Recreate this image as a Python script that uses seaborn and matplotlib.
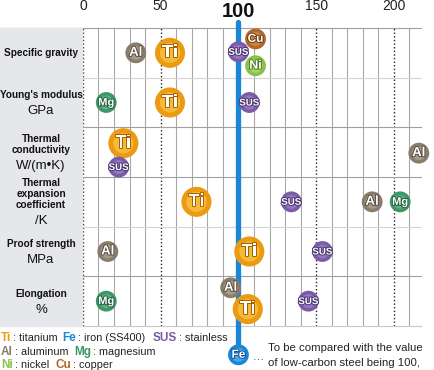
import matplotlib
matplotlib.use("Agg")
import matplotlib.pyplot as plt
import matplotlib.patheffects as pe
import matplotlib.transforms as mtransforms
from matplotlib.patches import Rectangle
import pandas as pd
import seaborn as sns

# property rows (top to bottom)
row_titles = [["Specific gravity"], ["Young's modulus"], ["Thermal", "conductivity"],
              ["Thermal", "expansion", "coefficient"], ["Proof strength"], ["Elongation"]]
row_units = ["", "GPa", "W/(m\u2022K)", "/K", "MPa", "%"]

# values relative to low-carbon steel (=100), per row
sg_mat = ["Al", "Ti", "SUS", "Cu", "Ni"]
sg_val = [34, 56, 100, 111, 111]
ym_mat = ["Mg", "Ti", "SUS"]
ym_val = [15, 56, 107]
tc_mat = ["Ti", "SUS", "Al"]
tc_val = [26, 23, 216]
te_mat = ["Ti", "SUS", "Al", "Mg"]
te_val = [73, 134, 186, 204]
ps_mat = ["Al", "Ti", "SUS"]
ps_val = [16, 107, 154]
el_mat = ["Mg", "Al", "Ti", "SUS"]
el_val = [15, 95, 106, 145]

# vertical nudges inside a row (fraction of row height) so bubbles don't overlap
sg_nudge = [0, 0, -0.02, -0.28, 0.26]
ym_nudge = [0, 0, 0]
tc_nudge = [-0.18, 0.30, 0.02]
te_nudge = [0, 0, 0, 0]
ps_nudge = [0, 0, 0]
el_nudge = [0, -0.27, 0.16, 0]

colors = {"Ti": "#ec9a12", "Al": "#8a7c6c", "SUS": "#7a5ba6", "Cu": "#b0692a",
          "Ni": "#8cc04a", "Mg": "#3f9768", "Fe": "#1a86d6"}
light = {"Ti": "#fbc94a", "Al": "#b3a898", "SUS": "#9f86c4", "Cu": "#d69550",
         "Ni": "#b5dc7c", "Mg": "#6dbb92", "Fe": "#5fb4ee"}
dark = {"Ti": "#a65f00", "Al": "#554a3e", "SUS": "#4a3270", "Cu": "#6e3a10",
        "Ni": "#4f7e1e", "Mg": "#1f5e3e", "Fe": "#0b5496"}
sizes = {"Ti": 470, "Al": 225, "SUS": 225, "Cu": 225, "Ni": 225, "Mg": 225, "Fe": 225}
txt_size = {"Ti": 13, "Al": 9.5, "SUS": 7, "Cu": 8.5, "Ni": 9, "Mg": 8, "Fe": 8.5}

mats = [sg_mat, ym_mat, tc_mat, te_mat, ps_mat, el_mat]
vals = [sg_val, ym_val, tc_val, te_val, ps_val, el_val]
nudges = [sg_nudge, ym_nudge, tc_nudge, te_nudge, ps_nudge, el_nudge]

recs = []
for i, (m, v, n) in enumerate(zip(mats, vals, nudges)):
    for mm, vv, nn in zip(m, v, n):
        recs.append({"material": mm, "value": vv, "row": i + 0.5 + nn})
df = pd.DataFrame(recs)

FONT = ["Liberation Sans", "DejaVu Sans"]

W, H = 434, 370
fig = plt.figure(figsize=(W / 100, H / 100), dpi=100)
x0px, x1px, y0px, y1px = 82, 421, 28, 326
ax = fig.add_axes([x0px / W, 1 - y1px / H, (x1px - x0px) / W, (y1px - y0px) / H])
ax.set_xlim(-0.6, 217.4)
ax.set_ylim(6, 0)
for s in ax.spines.values():
    s.set_visible(False)
ax.set_yticks([])

# left label panel
fig.patches.append(Rectangle((0, 1 - y1px / H), x0px / W, (y1px - y0px) / H,
                             transform=fig.transFigure, color="#e6e7ea", zorder=0))

# grid
for g in range(0, 220, 10):
    if g == 100:
        continue
    if g in (0, 50, 150, 200):
        ax.axvline(g, color="#222222", lw=1.0, ls=(0, (1, 1.6)), zorder=1)
    else:
        ax.axvline(g, color="#a8a8a8", lw=0.8, zorder=1)

px = 1.555  # pixels per data unit
line_cols = ["#a0a0a0", "#d4d4d4", "#a0a0a0", "#a0a0a0", "#d4d4d4", "#a0a0a0", "#c8c8c8"]
panel_cols = ["#a0a0a0", "#f8f8f8", "#a0a0a0", "#a0a0a0", "#f8f8f8", "#a0a0a0", "#f0f0f0"]
for r in range(0, 7):
    ax.plot([-0.6, 217.4], [r, r], color=line_cols[r], lw=0.8, clip_on=False, zorder=1)
    ax.plot([-0.6 - 82 / px, -0.6], [r, r], color=panel_cols[r], lw=0.8,
            clip_on=False, zorder=1)

# reference line at 100 (steel)
ax.plot([100, 100], [-0.12, 6.45], color=colors["Fe"], lw=3.8, clip_on=False,
        zorder=2, solid_capstyle="round")

# top tick labels
ax.xaxis.tick_top()
ax.set_xticks([0, 50, 150, 200])
ax.set_xticklabels(["0", "50", "150", "200"])
ax.tick_params(axis="x", length=0, pad=10.5)
for lab in ax.get_xticklabels():
    lab.set_fontfamily(FONT)
    lab.set_fontsize(10)
    lab.set_color("#222222")
top = mtransforms.blended_transform_factory(ax.transData, ax.transAxes)
ax.text(100, 1 + 11 / 298, "100", transform=top, ha="center", va="baseline",
        fontsize=14.5, fontweight="bold", color="#111111", family=FONT)


def bubbles(data):
    sns.scatterplot(data=data, x="value", y="row", hue="material", palette=colors,
                    size="material", sizes=sizes, legend=False, ax=ax,
                    edgecolor="none", linewidth=0, clip_on=False, zorder=3)
    for _, r in data.iterrows():
        m = r["material"]
        ax.scatter(r["value"], r["row"], s=sizes[m] * 0.45, color=light[m],
                   alpha=0.7, edgecolor="none", clip_on=False, zorder=4)
        ax.text(r["value"], r["row"], m, ha="center", va="center",
                fontsize=txt_size[m], fontweight="bold", color="white",
                family=FONT, zorder=5,
                path_effects=[pe.withStroke(linewidth=1.4, foreground=dark[m])])


bubbles(df)

# Fe reference marker below the chart
fe = pd.DataFrame({"material": ["Fe"], "value": [100], "row": [6.58]})
bubbles(fe)
ax.set_xlabel("")
ax.set_ylabel("")

# row labels in the left panel
lab_x = 41 / W
row_h = (y1px - y0px) / 6
for i, (title, unit) in enumerate(zip(row_titles, row_units)):
    lines = [(t, True) for t in title] + ([(unit, False)] if unit else [])
    steps = [11 if lines[k + 1][1] else 16 for k in range(len(lines) - 1)]
    cy = y0px + row_h * (i + 0.5) - sum(steps) / 2 + 0.5
    for k, (t, b) in enumerate(lines):
        fig.text(lab_x, 1 - cy / H, t, ha="center", va="center",
                 fontsize=7.2 if b else 9.5, fontweight="bold" if b else "normal",
                 family=FONT, color="#111111")
        if k < len(steps):
            cy += steps[k]

# legend lines (pieces chained left to right)
legend_rows = [
    (338, [("Ti", 0), (": titanium", 2), ("Fe", 4), (": iron (SS400)", 2), ("SUS", 8), (": stainless", 2)]),
    (352, [("Al", 0), (": aluminum", 2), ("Mg", 6), (": magnesium", 2)]),
    (365, [("Ni", 0), (": nickel", 2), ("Cu", 6), (": copper", 2)]),
]
renderer = fig.canvas.get_renderer()
for y, parts in legend_rows:
    x = 1
    for t, gap in parts:
        x += gap
        if t in colors:
            txt = fig.text(x / W, 1 - y / H, t, ha="left", va="center", fontsize=8.5,
                           fontweight="bold", color=colors[t], family=FONT)
        else:
            txt = fig.text(x / W, 1 - y / H, t, ha="left", va="center", fontsize=7.8,
                           color="#222222", family=FONT)
        x = txt.get_window_extent(renderer).x1

fig.text(252 / W, 1 - 357 / H, "\u2026", ha="left", va="center", fontsize=8,
         color="#333333", family=FONT)
fig.text(268 / W, 1 - 348 / H, "To be compared with the value", ha="left",
         va="center", fontsize=8.2, color="#222222", family=FONT)
fig.text(268 / W, 1 - 363 / H, "of low-carbon steel being 100,", ha="left",
         va="center", fontsize=8.2, color="#222222", family=FONT)

fig.savefig("out.png", dpi=100)
